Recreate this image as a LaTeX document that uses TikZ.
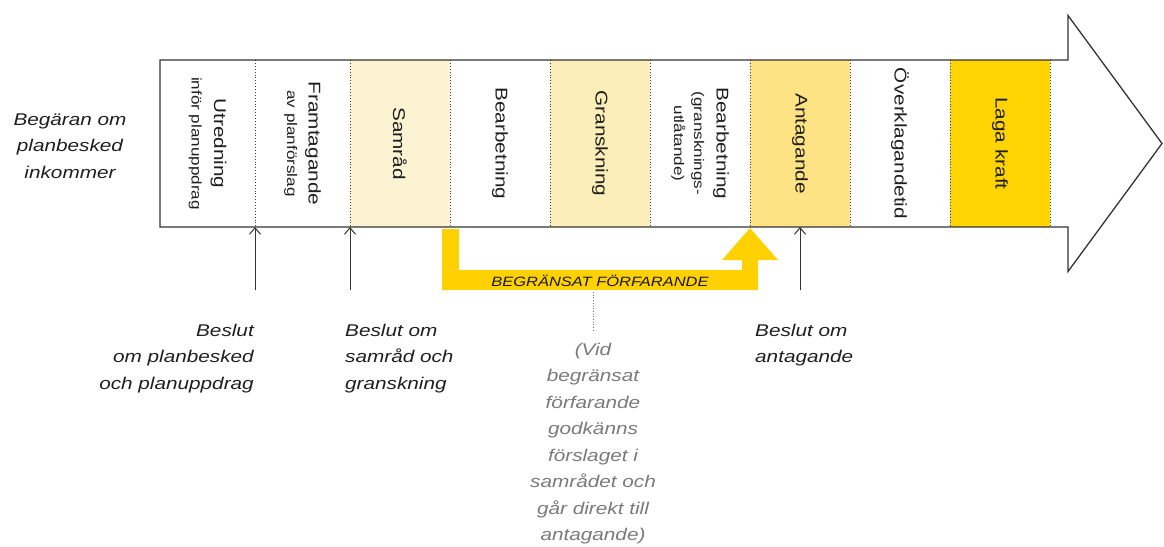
\documentclass[tikz,border=0pt]{standalone}
\usepackage{fontspec}
\setmainfont{Liberation Sans}[FakeStretch=1.22]
\usepackage{tikz}
\usetikzlibrary{positioning,arrows.meta}

\definecolor{samradgul}{HTML}{FCF3D2}
\definecolor{granskgul}{HTML}{FBEEB9}
\definecolor{antaggul}{HTML}{FDE384}
\definecolor{kraftgul}{HTML}{FFD400}
\definecolor{bandgul}{HTML}{FFD100}
\definecolor{notgra}{HTML}{7A7A7A}

\newcommand{\stor}{\fontsize{17}{22.5}\selectfont}
\newcommand{\liten}{\fontsize{14}{20}\selectfont}
\newcommand{\kursiv}{\fontsize{17}{26.5}\selectfont\itshape}

\begin{document}
\begin{tikzpicture}[x=1pt,y=-1pt,
  fas/.style={rotate=-90,minimum width=167pt,minimum height=100pt,inner sep=0pt,align=center,font=\stor,text=black!88},
  skiljelinje/.style={dotted,line width=0.9pt,black!75},
  pilkontur/.style={line width=1.3pt,black!80,line join=miter},
  beslut/.style={inner sep=0pt,font=\kursiv,text=black!88},
  beslutpil/.style={line width=1pt,black!80,-{Straight Barb[length=6.5pt,width=11pt]}}]
\useasboundingbox (0,0) rectangle (1164,546);

% faserna i pilen
\node[fas,minimum height=95pt] (utredning) at (207.5,143.5) {Utredning\\\liten inför planuppdrag};
\node[fas,minimum height=95pt] (framtagande) at (302.5,143.5) {Framtagande\\[-1pt]\liten av planförslag};
\node[fas,fill=samradgul] (samrad) at (400,143.5) {Samråd};
\node[fas] (bearbetning) at (500,143.5) {Bearbetning};
\node[fas,fill=granskgul] (granskning) at (600,143.5) {Granskning};
\node[fas] (bearbetning2) at (700,143.5) {Bearbetning\\\liten (gransknings-\\[-2.5pt]\liten utlåtande)};
\node[fas,fill=antaggul] (antagande) at (800,143.5) {Antagande};
\node[fas] (overklagande) at (900,143.5) {Överklagandetid};
\node[fas,fill=kraftgul] (laga) at (1000,143.5) {Laga kraft};

\foreach \x in {255,350,450,550,650,750,850,950,1050}
  \draw[skiljelinje] (\x,60) -- (\x,227);

% stora pilen
\draw[pilkontur] (160,60) -- (1068,60) -- (1068,15.5) -- (1162,143.5)
  -- (1068,271.5) -- (1068,227) -- (160,227) -- cycle;

% begransat forfarande
\fill[bandgul] (442,229) -- (459,229) -- (459,270) -- (742,270) -- (742,260)
  -- (722,260) -- (750,228) -- (778,260) -- (758,260) -- (758,290) -- (442,290) -- cycle;
\node[inner sep=0pt,font=\fontsize{13.5}{15}\selectfont\itshape,text=black!90] (begransat) at (600,281) {BEGRÄNSAT FÖRFARANDE};

\node[beslut,align=center] (begaran) at (70,146)
  {Begäran om\\planbesked\\inkommer};

% beslut
\node[beslut,align=right,anchor=north east] (beslut1) at (254,323.5)
  {Beslut\\om planbesked\\och planuppdrag};
\node[beslut,align=left,anchor=north west] (beslut2) at (345,323.5)
  {Beslut om\\samråd och\\granskning};
\node[beslut,align=left,anchor=north west] (beslut3) at (755,323.5)
  {Beslut om\\antagande};
\node[beslut,align=center,anchor=north,text=notgra] (not) at (593,342.5)
  {(Vid\\begränsat\\förfarande\\godkänns\\förslaget i\\samrådet och\\går direkt till\\antagande)};

\coordinate (p1) at (255,290);
\coordinate (p2) at (350,290);
\coordinate (p3) at (800,290);
\coordinate (botten) at (160,227);
\draw[beslutpil] (p1) -- (p1 |- botten);
\draw[beslutpil] (p2) -- (p2 |- botten);
\draw[beslutpil] (p3) -- (p3 |- botten);

\coordinate (notstart) at (593,292);
\draw[skiljelinje,line width=0.7pt,black!55,shorten >=10pt] (notstart) -- (not.north);
\end{tikzpicture}
\end{document}
